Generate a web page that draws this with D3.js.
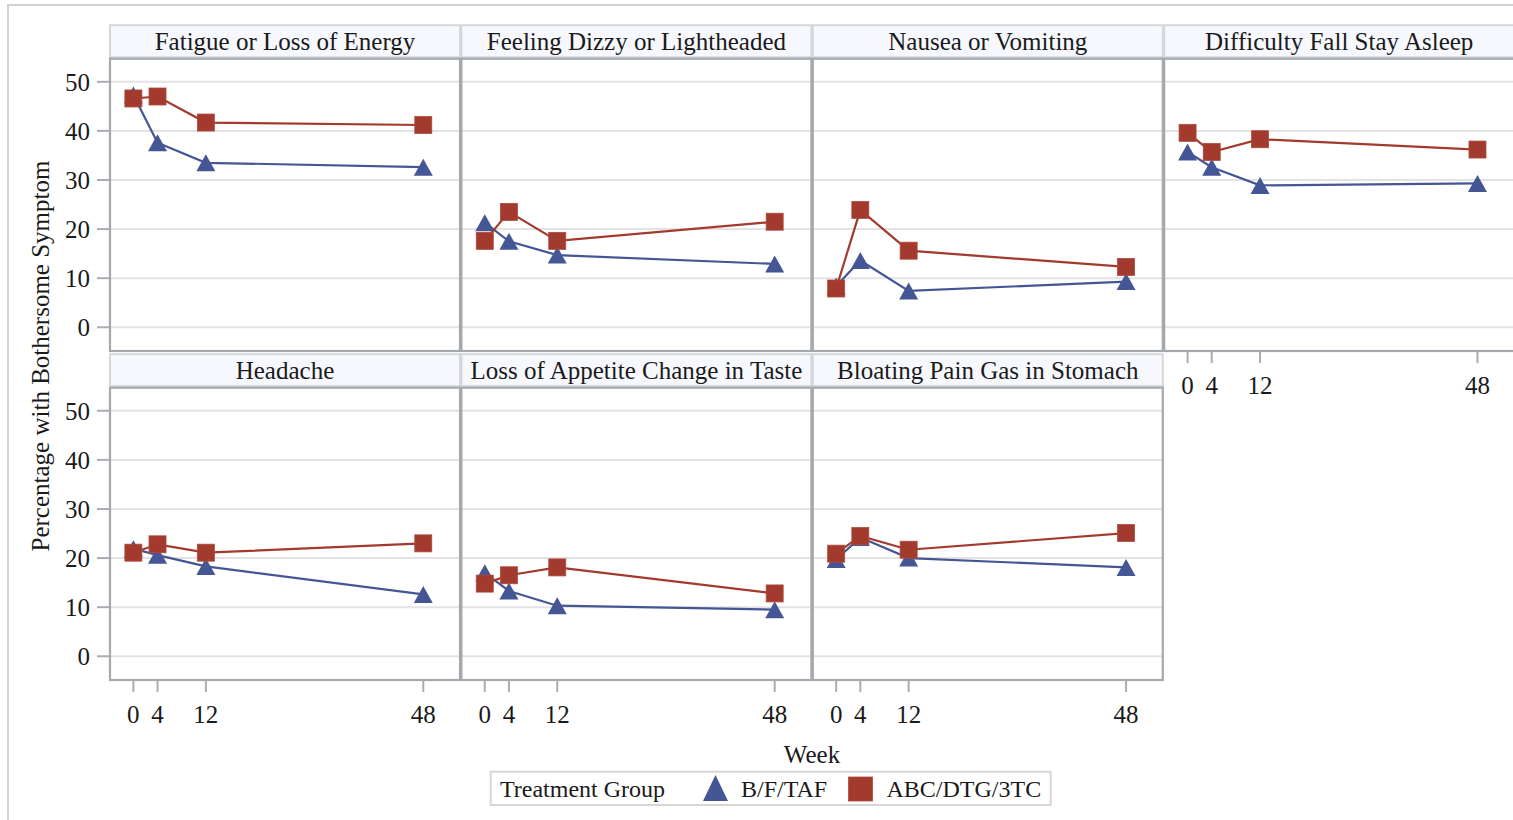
<!DOCTYPE html>
<html>
<head>
<meta charset="utf-8">
<script src="https://cdn.jsdelivr.net/npm/d3@7"></script>
<style>
  html, body { margin: 0; padding: 0; background: #fff; }
  svg { display: block; }
  text { font-family: "Liberation Serif", "Times New Roman", serif; fill: #1a1a1a; }
</style>
</head>
<body>
<svg id="chart" width="1513" height="820"></svg>
<script>
// ---- data ----
const weeks = [0, 4, 12, 48];
const symptoms = [
  "Fatigue or Loss of Energy",
  "Feeling Dizzy or Lightheaded",
  "Nausea or Vomiting",
  "Difficulty Fall Stay Asleep",
  "Headache",
  "Loss of Appetite Change in Taste",
  "Bloating Pain Gas in Stomach"
];
const groups = ["B/F/TAF", "ABC/DTG/3TC"];
const bfTafValues = [
  [47.3, 37.6, 33.5, 32.6],
  [21.3, 17.5, 14.7, 12.9],
  [8.4, 13.6, 7.4, 9.3],
  [35.7, 32.6, 28.9, 29.3],
  [21.9, 20.6, 18.3, 12.6],
  [17.0, 13.3, 10.3, 9.5],
  [19.7, 24.2, 20.0, 18.1]
];
const abcDtgValues = [
  [46.6, 47.0, 41.7, 41.2],
  [17.6, 23.5, 17.6, 21.5],
  [7.9, 23.9, 15.6, 12.3],
  [39.6, 35.7, 38.3, 36.2],
  [21.1, 22.8, 21.1, 23.0],
  [14.8, 16.5, 18.1, 12.8],
  [20.9, 24.5, 21.7, 25.1]
];
const yTicks = [0, 10, 20, 30, 40, 50];
const xTicks = [0, 4, 12, 48];
const yAxisTitle = "Percentage with Bothersome Symptom";
const xAxisTitle = "Week";
const legendTitle = "Treatment Group";

// ---- layout ----
const svg = d3.select("#chart");
const colors = ["#445694", "#A23A2E"];
const colX0 = 110, colStep = 351.4, plotW = 350;
const rowPlotTop = [58.7, 387.7], plotH = 292.3;
const headerH = 32;
const FS = 25;

// outer frame
svg.append("rect").attr("x", 8).attr("y", 5).attr("width", 1530).attr("height", 840)
  .attr("fill", "none").attr("stroke", "#d2d2d2").attr("stroke-width", 2);

const x = d3.scaleLinear().domain([-3.87, 54.08]).range([0, plotW]);
const y = d3.scaleLinear().domain([-4.83, 54.7]).range([plotH, 0]);

function triPath(w, h) {
  return `M0,${-h/2}L${w/2},${h/2}L${-w/2},${h/2}Z`;
}

symptoms.forEach((name, i) => {
  const col = i % 4, row = Math.floor(i / 4);
  const px = colX0 + col * colStep;
  const py = rowPlotTop[row];
  const g = svg.append("g").attr("transform", `translate(${px},${py})`);

  // header band
  g.append("rect").attr("x", 0).attr("y", -headerH - 1.5).attr("width", plotW).attr("height", headerH)
    .attr("fill", "#f6f8fd").attr("stroke", "#d5d7da").attr("stroke-width", 2);
  g.append("text").attr("x", plotW / 2).attr("y", -8.7).attr("text-anchor", "middle")
    .attr("font-size", FS).text(name);

  // plot background
  g.append("rect").attr("width", plotW).attr("height", plotH).attr("fill", "#fff");

  // gridlines
  g.selectAll("line.grid").data(yTicks).join("line").attr("class", "grid")
    .attr("x1", 0).attr("x2", plotW).attr("y1", d => y(d)).attr("y2", d => y(d))
    .attr("stroke", "#e3e3e3").attr("stroke-width", 2);

  // series
  const series = [bfTafValues[i], abcDtgValues[i]];
  series.forEach((vals, s) => {
    const pts = weeks.map((w, k) => [x(w), y(vals[k])]);
    g.append("path").attr("d", d3.line()(pts)).attr("fill", "none")
      .attr("stroke", colors[s]).attr("stroke-width", 2.2);
    if (s === 0) {
      g.selectAll("path.tri").data(pts).join("path").attr("class", "tri")
        .attr("transform", d => `translate(${d[0]},${d[1]})`)
        .attr("d", triPath(19, 17)).attr("fill", colors[0]);
    } else {
      g.selectAll("rect.sq").data(pts).join("rect").attr("class", "sq")
        .attr("x", d => d[0] - 8.5).attr("y", d => d[1] - 8.5)
        .attr("width", 17).attr("height", 17).attr("fill", colors[1])
        .attr("stroke", "#b04a3f").attr("stroke-width", 0.8);
    }
  });

  // border
  g.append("rect").attr("width", plotW).attr("height", plotH).attr("fill", "none")
    .attr("stroke", "#a5a9ae").attr("stroke-width", 2.2);

  // y axis on first column
  if (col === 0) {
    g.selectAll("line.ytick").data(yTicks).join("line").attr("class", "ytick")
      .attr("x1", -13).attr("x2", 0).attr("y1", d => y(d)).attr("y2", d => y(d))
      .attr("stroke", "#a9adb2").attr("stroke-width", 2);
    g.selectAll("text.ylab").data(yTicks).join("text").attr("class", "ylab")
      .attr("x", -20).attr("y", d => y(d) + 9).attr("text-anchor", "end")
      .attr("font-size", FS).text(d => d);
  }
  // x axis: bottom row, or panel 4 (nothing below it)
  if (row === 1 || i === 3) {
    g.selectAll("line.xtick").data(xTicks).join("line").attr("class", "xtick")
      .attr("x1", d => x(d)).attr("x2", d => x(d)).attr("y1", plotH).attr("y2", plotH + 12)
      .attr("stroke", "#a9adb2").attr("stroke-width", 2);
    g.selectAll("text.xlab").data(xTicks).join("text").attr("class", "xlab")
      .attr("x", d => x(d)).attr("y", plotH + 43).attr("text-anchor", "middle")
      .attr("font-size", FS).text(d => d);
  }
});

// axis titles
svg.append("text").attr("transform", "translate(49,356) rotate(-90)")
  .attr("text-anchor", "middle").attr("font-size", FS).text(yAxisTitle);
svg.append("text").attr("x", 812).attr("y", 763).attr("text-anchor", "middle")
  .attr("font-size", FS).text(xAxisTitle);

// legend
const lg = svg.append("g");
lg.append("rect").attr("x", 490.7).attr("y", 771.7).attr("width", 560).attr("height", 33.3)
  .attr("fill", "#fff").attr("stroke", "#d6d6d6").attr("stroke-width", 2);
lg.append("text").attr("x", 500).attr("y", 796.5).attr("font-size", 24).text(legendTitle);
lg.append("path").attr("transform", "translate(715.5,788)").attr("d", triPath(25, 26)).attr("fill", colors[0]);
lg.append("text").attr("x", 741).attr("y", 796.5).attr("font-size", 24).text(groups[0]);
lg.append("rect").attr("x", 848.5).attr("y", 777).attr("width", 24).attr("height", 24).attr("fill", colors[1])
  .attr("stroke", "#b04a3f").attr("stroke-width", 0.8);
lg.append("text").attr("x", 886.5).attr("y", 796.5).attr("font-size", 24).text(groups[1]);
</script>
</body>
</html>
